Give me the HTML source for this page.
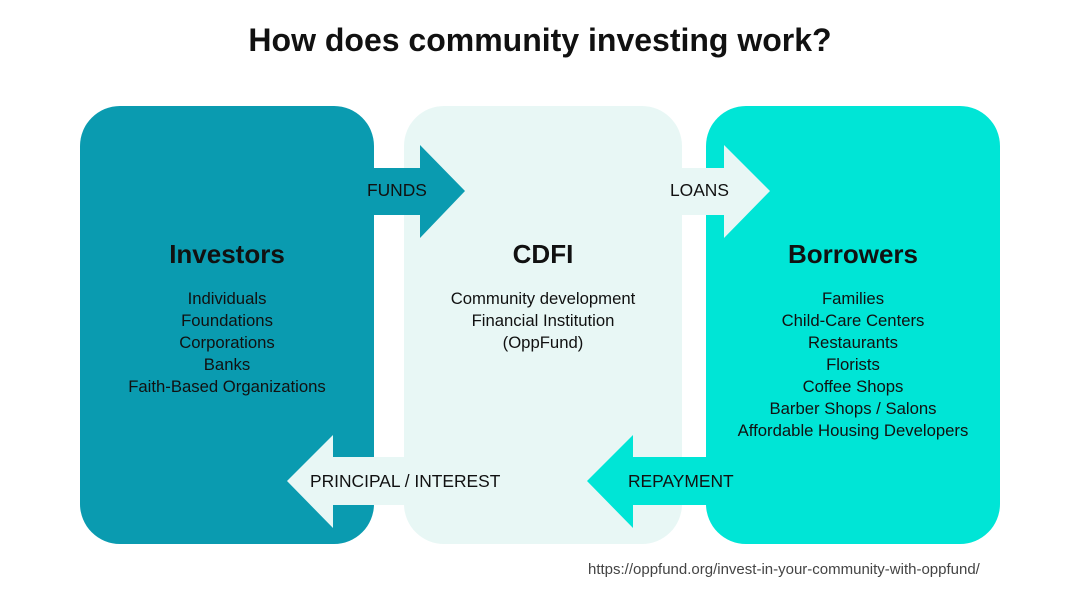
<!DOCTYPE html>
<html><head><style>
body{margin:0;width:1080px;height:603px;background:#fff;font-family:"Liberation Sans","DejaVu Sans",sans-serif;position:relative;overflow:hidden}
.t{position:absolute;left:0;width:1080px;text-align:center;top:22px;font-size:32px;font-weight:bold;color:#111}
.box{position:absolute;top:106px;height:438px;border-radius:40px}
.h{position:absolute;width:100%;text-align:center;top:133px;font-size:26px;font-weight:bold;color:#111}
.l{position:absolute;width:100%;text-align:center;top:182px;font-size:16.7px;line-height:22px;color:#111}
.lab{position:absolute;font-size:17.4px;color:#111}
</style></head><body>
<div class="t">How does community investing work?</div>
<div class="box" style="left:80px;width:294px;background:#0a9bb0"><div class="h">Investors</div><div class="l">Individuals<br>Foundations<br>Corporations<br>Banks<br>Faith-Based Organizations</div></div>
<div class="box" style="left:404px;width:278px;background:#e8f7f5"><div class="h">CDFI</div><div class="l">Community development<br>Financial Institution<br>(OppFund)</div></div>
<div class="box" style="left:706px;width:294px;background:#00e5d6"><div class="h">Borrowers</div><div class="l">Families<br>Child-Care Centers<br>Restaurants<br>Florists<br>Coffee Shops<br>Barber Shops / Salons<br>Affordable Housing Developers</div></div>
<svg width="1080" height="603" style="position:absolute;left:0;top:0">
<polygon points="374,168 420,168 420,145 465,191 420,238 420,215 374,215" fill="#0a9bb0"/>
<polygon points="682,168 724,168 724,145 770,191 724,238 724,215 682,215" fill="#e8f7f5"/>
<polygon points="404,457 333,457 333,435 287,481 333,528 333,505 404,505" fill="#e8f7f5"/>
<polygon points="706,457 633,457 633,435 587,481 633,528 633,505 706,505" fill="#00e5d6"/>
</svg>
<div class="lab" style="left:367px;top:180px">FUNDS</div>
<div class="lab" style="left:670px;top:180px">LOANS</div>
<div class="lab" style="left:310px;top:471px">PRINCIPAL / INTEREST</div>
<div class="lab" style="left:628px;top:471px">REPAYMENT</div>
<div style="position:absolute;left:588px;top:561px;font-size:15px;color:#444">https://oppfund.org/invest-in-your-community-with-oppfund/</div>
</body></html>
